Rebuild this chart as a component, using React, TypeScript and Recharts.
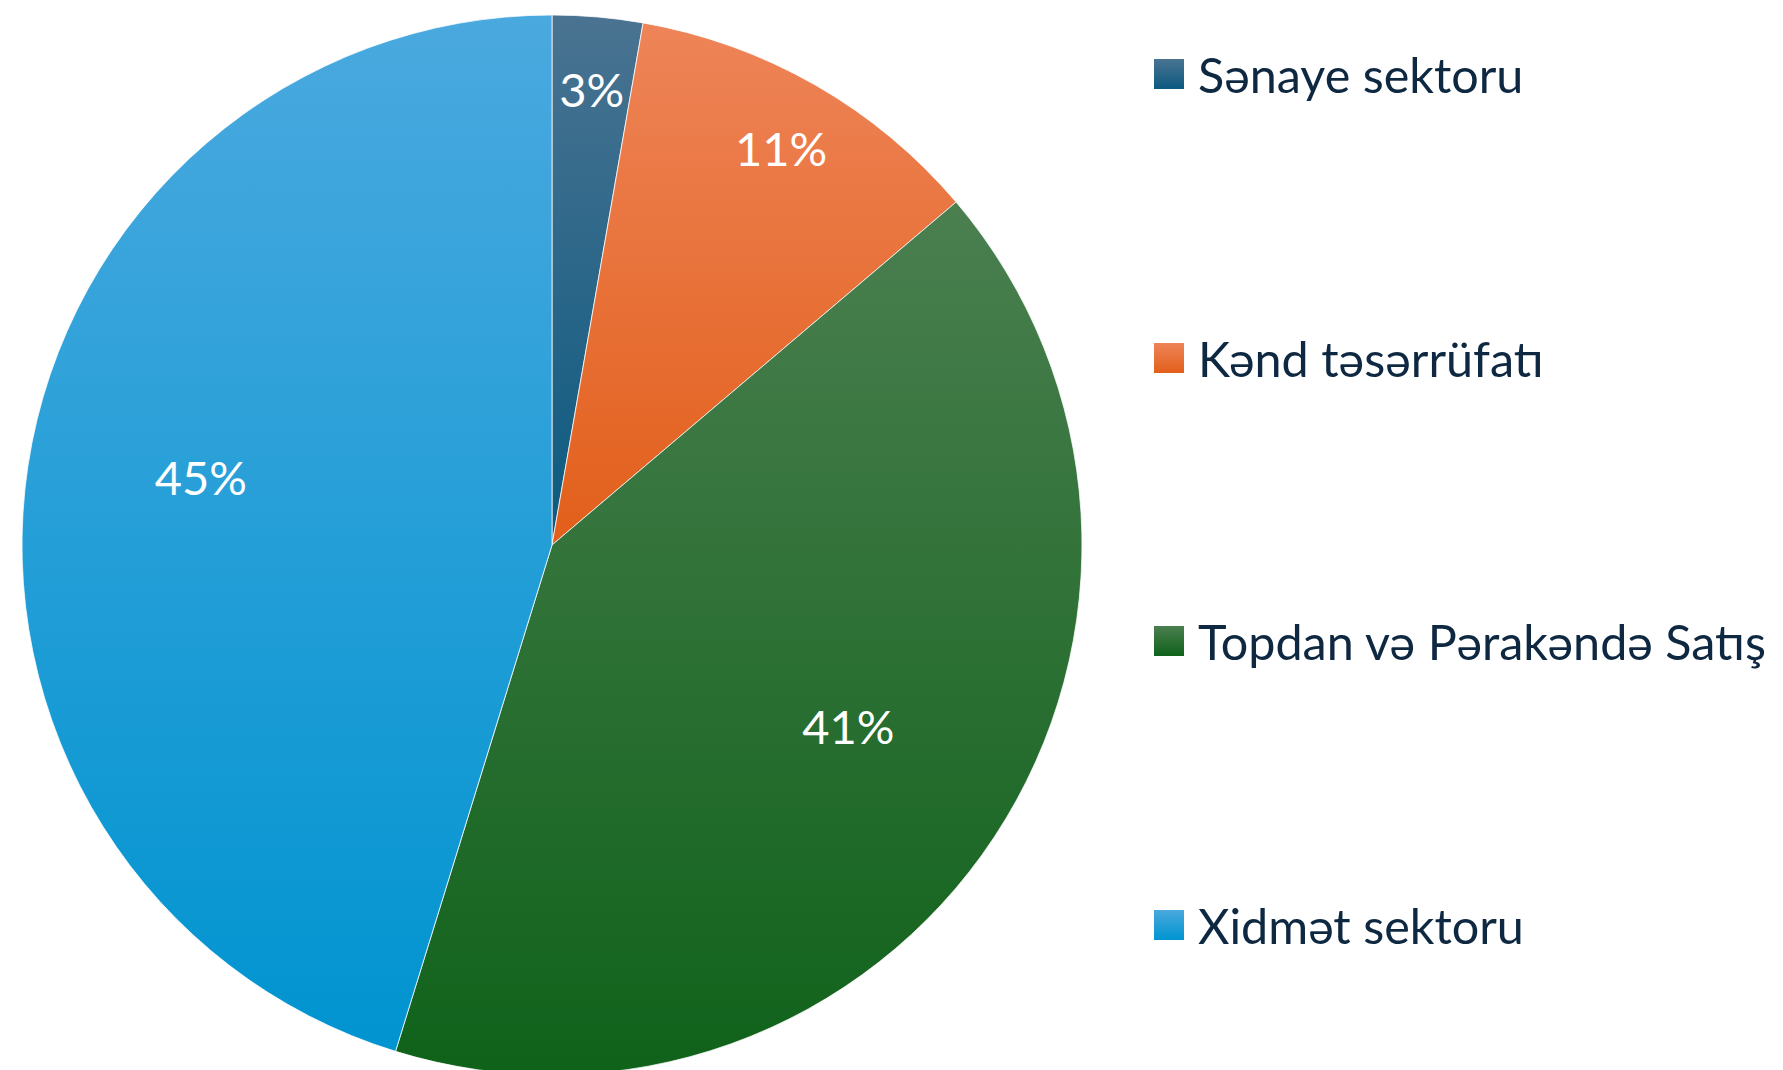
import React from 'react';
import { PieChart, Pie, Cell, Legend } from 'recharts';

const categories = [
	'Sənaye sektoru',
	'Kənd təsərrüfatı',
	'Topdan və Pərakəndə Satış',
	'Xidmət sektoru',
];
const shares = [2.75, 11.05, 40.97, 45.23];

const topColors = ['#4a7391', '#ee8458', '#4b7f50', '#4aa9df'];
const bottomColors = ['#0b5a80', '#e25f1a', '#0f621a', '#0094d0'];

const data = categories.map((name, i) => ({ name, value: shares[i] }));

const FONT = "Lato, 'Noto Sans', sans-serif";
const RAD = Math.PI / 180;

// small slices get their label near the rim, big ones nearer the middle
const renderLabel = (props: any) => {
	const { cx, cy, midAngle, outerRadius, percent } = props;
	const big = percent >= 0.2;
	const r = outerRadius * (big ? 0.67 : 0.87);
	const x = cx + r * Math.cos(-midAngle * RAD);
	const y = cy + r * Math.sin(-midAngle * RAD) + (big ? -15 : 3);
	return (
		<text
			x={x}
			y={y}
			fill='#fff'
			textAnchor='middle'
			dominantBaseline='central'
			fontFamily={FONT}
			fontSize={47}
		>
			{`${Math.round(percent * 100)}%`}
		</text>
	);
};

const renderLegend = () => (
	<div style={{ display: 'flex', flexDirection: 'column', fontFamily: FONT }}>
		{categories.map((name, i) => (
			<div
				key={name}
				style={{
					display: 'flex',
					alignItems: 'center',
					height: 60,
					marginBottom: 223.5,
					whiteSpace: 'nowrap',
				}}
			>
				<svg width={30} height={30} style={{ marginRight: 14, flex: 'none' }}>
					<rect width={30} height={30} fill={`url(#leg${i})`} />
				</svg>
				<span style={{ fontSize: 48.5, color: '#0e2841' }}>{name}</span>
			</div>
		))}
	</div>
);

export default function App() {
	return (
		<div style={{ position: 'absolute', left: 0, top: 0, width: 1783, height: 1070, overflow: 'hidden', background: '#fff' }}>
			<PieChart width={1783} height={1070} margin={{ top: 0, right: 0, bottom: 0, left: 0 }}>
				<defs>
					{topColors.map((c, i) => (
						<linearGradient key={`g${i}`} id={`g${i}`} x1='0' y1='0' x2='0' y2='1'>
							<stop offset='0%' stopColor={c} />
							<stop offset='100%' stopColor={bottomColors[i]} />
						</linearGradient>
					))}
					{topColors.map((c, i) => (
						<linearGradient key={`leg${i}`} id={`leg${i}`} x1='0' y1='0' x2='0' y2='1'>
							<stop offset='0%' stopColor={c} />
							<stop offset='100%' stopColor={bottomColors[i]} />
						</linearGradient>
					))}
				</defs>
				<Pie
					data={data}
					dataKey='value'
					nameKey='name'
					cx={552}
					cy={545}
					outerRadius={530}
					startAngle={90}
					endAngle={-270}
					stroke='#fff'
					strokeWidth={0.75}
					label={renderLabel}
					labelLine={false}
					isAnimationActive={false}
				>
					{data.map((d, i) => (
						<Cell key={d.name} fill={`url(#g${i})`} />
					))}
				</Pie>
				<Legend
					content={renderLegend}
					wrapperStyle={{ position: 'absolute', left: 1154, top: 44, right: 'auto', bottom: 'auto', width: 629 }}
				/>
			</PieChart>
		</div>
	);
}
